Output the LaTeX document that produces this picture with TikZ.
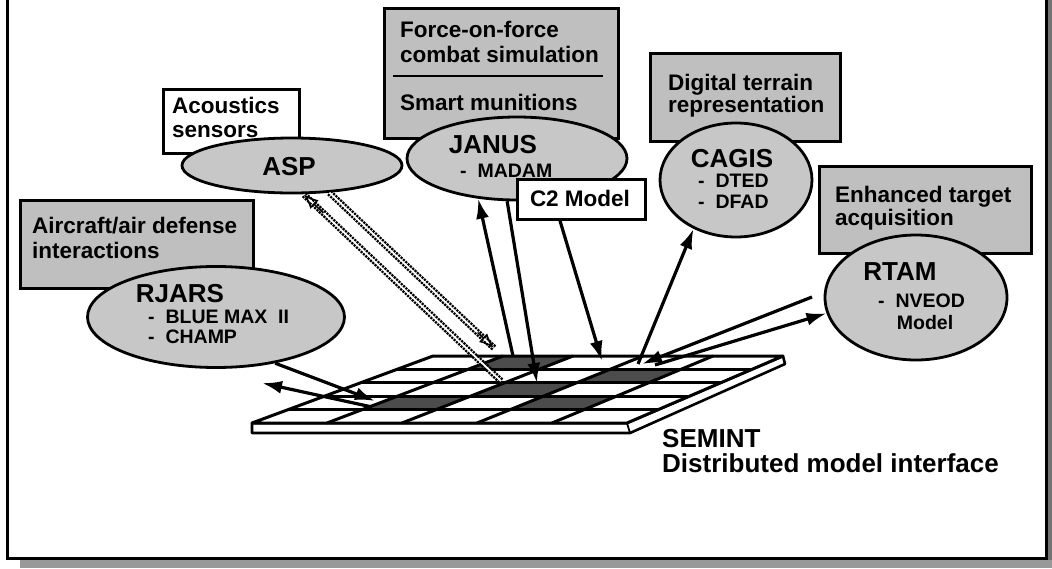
\documentclass[tikz,border=0pt]{standalone}
\usepackage{fontspec}
\setmainfont{Liberation Sans}
\usetikzlibrary{shapes.geometric,arrows.meta,calc}
\newcommand\gridpt[2]{({(433+350*(#1))*(1-(#2))+(252+375*(#1))*(#2)},{356+67*(#2)})}
\tikzset{
  gbox/.style={draw, line width=2.8pt, fill=black!25, inner sep=0pt, anchor=north west},
  wbox/.style={draw, line width=2.8pt, fill=white, inner sep=0pt, anchor=north west},
  ell/.style={ellipse, draw, line width=2.8pt, fill=black!22, inner sep=0pt},
  lbl/.style={font=\bfseries\fontsize{22.5}{24}\selectfont, anchor=base west, inner sep=0pt},
  ttl/.style={font=\bfseries\fontsize{26}{28}\selectfont, anchor=base, inner sep=0pt},
  sub/.style={font=\bfseries\fontsize{19.5}{21}\selectfont, anchor=base west, inner sep=0pt},
  arr/.style={line width=3.2pt, -{Latex[length=20pt,width=13pt]}},
  gridline/.style={line width=3pt},
  hatch/.style={line width=6.5pt, dash pattern=on 2.2pt off 1pt},
  hatchin/.style={white, line width=1.8pt},
}
\begin{document}
\begin{tikzpicture}[x=1pt,y=-1pt]
\useasboundingbox (0,0) rectangle (1052,568);
% frame and shadow
\fill[black!55] (1047,0) rectangle (1052,568);
\fill[black!40] (20,560) rectangle (1052,568);
\draw[line width=3pt] (7,-3) -- (7,558) -- (1046,558) -- (1046,-3);

% boxes
\node[wbox, minimum width=136pt, minimum height=64pt] (acbox) at (162,88) {};
\node[gbox, minimum width=233pt, minimum height=88pt] (airbox) at (19,199) {};
\node[gbox, minimum width=234pt, minimum height=130pt] (forcebox) at (383,7) {};
\node[gbox, minimum width=190pt, minimum height=88pt] (digbox) at (649,52) {};
\node[gbox, minimum width=212pt, minimum height=87pt] (enhbox) at (818,165) {};

\node[lbl] (tac1) at (172,113) {Acoustics};
\node[lbl] (tac2) at (172,137) {sensors};
\node[lbl] (tair1) at (32,233) {Aircraft/air defense};
\node[lbl] (tair2) at (32,258) {interactions};
\node[lbl] (tf1) at (400,37) {Force-on-force};
\node[lbl] (tf2) at (400,62) {combat simulation};
\draw[line width=2.4pt] (393,76) -- (603,76);
\node[lbl] (tf3) at (400,110) {Smart munitions};
\node[lbl] (td1) at (668,90) {Digital terrain};
\node[lbl] (td2) at (668,112) {representation};
\node[lbl] (te1) at (835,202) {Enhanced target};
\node[lbl] (te2) at (835,225) {acquisition};

% ellipses
\node[ell, minimum width=220pt, minimum height=55pt] (asp) at (292,165.5) {};
\node[ell, minimum width=257pt, minimum height=101pt] (rjars) at (216,317) {};
\node[ell, minimum width=220pt, minimum height=83pt] (janus) at (517,158.5) {};
\node[ell, minimum width=152pt, minimum height=114pt] (cagis) at (736,180) {};
\node[ell, minimum width=182pt, minimum height=125pt] (rtam) at (916,297.5) {};

\node[ttl] (tasp) at (289,175) {ASP};
\node[ttl] (trj) at (180,302) {RJARS};
\node[sub] (trj1) at (148,323) {-\ \ BLUE MAX\ \ II};
\node[sub] (trj2) at (148,343) {-\ \ CHAMP};
\node[ttl] (tja) at (493,153) {JANUS};
\node[sub] (tja1) at (460,177) {-\ \ MADAM};
\node[ttl] (tca) at (732,167) {CAGIS};
\node[sub] (tca1) at (698,187) {-\ \ DTED};
\node[sub] (tca2) at (698,208) {-\ \ DFAD};
\node[ttl] (trt) at (900,280) {RTAM};
\node[sub] (trt1) at (878,307) {-\ \ NVEOD};
\node[sub, anchor=base] (trt2) at (925,329) {Model};

% C2 box
\node[wbox, minimum width=128pt, minimum height=40pt] (c2) at (516,178) {};
\node[lbl, anchor=base] (tc2) at (580,206) {C2 Model};

% SEMINT label
\node[font=\bfseries\fontsize{26}{26}\selectfont, anchor=base west, inner sep=0pt] (sem1) at (662,447) {SEMINT};
\node[font=\bfseries\fontsize{26}{26}\selectfont, anchor=base west, inner sep=0pt] (sem2) at (662,472) {Distributed model interface};

% slab
\draw[line width=2.6pt, fill=white, line join=round] (252,423) -- (627,423) -- (783,356) -- (785,364) -- (630,433) -- (252,433) -- cycle;
\draw[line width=1.8pt] (627,423) -- (630,433);
% top surface
\fill[white] \gridpt{0}{0} -- \gridpt{1}{0} -- \gridpt{1}{1} -- \gridpt{0}{1} -- cycle;
\foreach \r/\c in {0/1,1/3,2/2,3/1,3/3}{
  \fill[black!70] \gridpt{\c/5}{\r/5} -- \gridpt{(\c+1)/5}{\r/5} -- \gridpt{(\c+1)/5}{(\r+1)/5} -- \gridpt{\c/5}{(\r+1)/5} -- cycle;
}
\foreach \v in {0.2,0.4,0.6,0.8}{\draw[gridline] \gridpt{0}{\v} -- \gridpt{1}{\v};}
\foreach \u in {0.2,0.4,0.6,0.8}{\draw[gridline] \gridpt{\u}{0} -- \gridpt{\u}{1};}
\draw[gridline, line join=round] \gridpt{0}{0} -- \gridpt{1}{0} -- \gridpt{1}{1} -- \gridpt{0}{1} -- cycle;

% plane end points
\coordinate (prj) at (375,401);
\coordinate (pleft) at (372,407);
\coordinate (lefttip) at (262,383);
\coordinate (pasp1) at (501,381);
\coordinate (pasp2) at (494,348);
\coordinate (pjup) at (513,356);
\coordinate (pjdown) at (537,383);
\coordinate (pc2) at (602,361);
\coordinate (pcagis) at (638,364);
\coordinate (pr1) at (642,364);
\coordinate (r1start) at (812,297);
\coordinate (pr2) at (655,365);

% connectors
\draw[arr] (rjars.-38) -- (prj);
\draw[arr] (pleft) -- (lefttip);
\draw[hatch] (pasp1) -- (asp.-68);
\draw[hatchin] (pasp1) -- (asp.-68);
\draw[hatch] (asp.-36) -- (pasp2);
\draw[hatchin] (asp.-36) -- (pasp2);
\draw[line width=1.5pt, fill=white, -{Latex[open,length=15pt,width=12pt]}] ($(pasp1)!0.9!(asp.-68)$) -- (asp.-68);
\draw[line width=1.5pt, fill=white, -{Latex[open,length=15pt,width=12pt]}] ($(asp.-36)!0.9!(pasp2)$) -- (pasp2);
\draw[arr] (pjup) -- (janus.-134);
\draw[arr] (janus.-103) -- (pjdown);
\draw[arr] ([xshift=44pt]c2.south west) -- (pc2);
\draw[arr] (pcagis) -- (cagis.-131);
\draw[arr] (r1start) -- (pr1);
\draw[arr] (pr2) -- (rtam.190);
\end{tikzpicture}
\end{document}
